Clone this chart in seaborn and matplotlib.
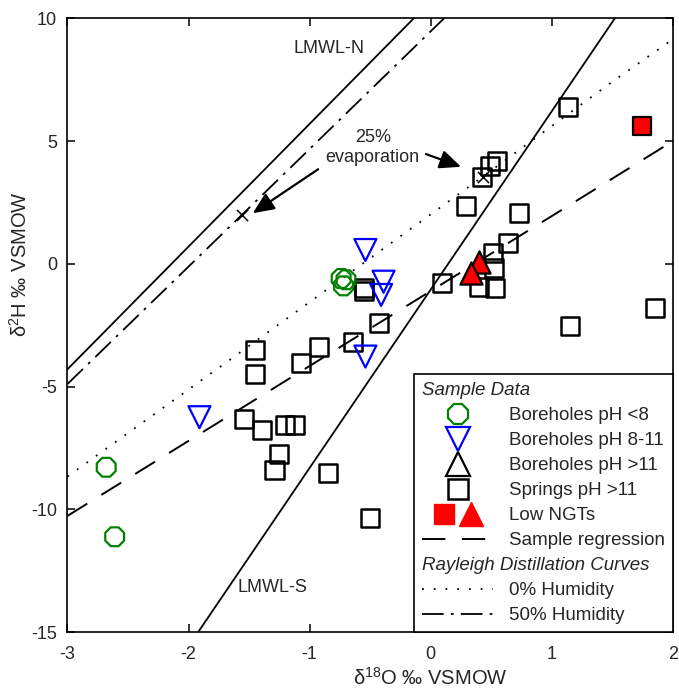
import seaborn as sns
import matplotlib.pyplot as plt
from matplotlib.lines import Line2D
from matplotlib.legend_handler import HandlerTuple

# ---------------------------------------------
# data
# ---------------------------------------------
bh_low_x = [-2.68, -2.61, -0.74, -0.70, -0.72]
bh_low_y = [-8.29, -11.12, -0.60, -0.65, -0.90]

bh_mid_x = [-1.91, -0.54, -0.54, -0.39, -0.41]
bh_mid_y = [-6.25, 0.56, -3.78, -0.73, -1.27]

bh_high_x = [0.40, 0.33]
bh_high_y = [0.09, -0.39]

springs_x = [-1.45, -1.45, -1.07, -0.92, -0.64, -1.54, -1.39, -1.20, -1.12,
             -1.25, -1.29, -0.85, -0.50, -0.43, -0.55, -0.55, 0.09, 0.29,
             0.73, 0.42, 0.49, 0.55, 1.13, 0.51, 0.52, 0.64, 0.40, 0.53,
             1.15, 1.85]
springs_y = [-3.51, -4.49, -4.05, -3.40, -3.20, -6.33, -6.77, -6.57, -6.57,
             -7.75, -8.40, -8.51, -10.37, -2.42, -1.00, -1.10, -0.79, 2.34,
             2.05, 3.55, 3.98, 4.20, 6.37, 0.43, -0.18, 0.83, -0.93, -1.00,
             -2.53, -1.79]

ngt_sq_x = [1.74]
ngt_sq_y = [5.61]

# evaporation end points (x markers)
evap_x = [-1.56, 0.43]
evap_y = [1.99, 3.55]

# lines (end points / curve points)
lmwl_n_x = [-3.0, -0.14]
lmwl_n_y = [-4.3, 10.0]
lmwl_s_x = [-1.92, 1.52]
lmwl_s_y = [-15.0, 10.0]
reg_x = [-3.0, 2.0]
reg_y = [-10.27, 5.0]
hum0_x = [-3.0, -1.63, 0.43, 1.50, 2.0]
hum0_y = [-8.67, -3.81, 3.55, 7.42, 9.15]
hum50_x = [-3.0, -1.56, 0.11]
hum50_y = [-4.9, 1.99, 10.0]

# ---------------------------------------------
# style
# ---------------------------------------------
sns.set_style("ticks")
plt.rcParams["font.family"] = ["Liberation Sans", "DejaVu Sans"]
plt.rcParams["mathtext.fontset"] = "custom"
plt.rcParams["mathtext.rm"] = "Liberation Sans"
plt.rcParams["axes.unicode_minus"] = False
plt.rcParams["xtick.direction"] = "in"
plt.rcParams["ytick.direction"] = "in"

fig = plt.figure(figsize=(6.79, 6.92), dpi=100)
ax = fig.add_axes([0.0993, 0.0867, 0.8919, 0.8869])

# lines
sns.lineplot(x=lmwl_n_x, y=lmwl_n_y, ax=ax, color="k", lw=1.3)
sns.lineplot(x=lmwl_s_x, y=lmwl_s_y, ax=ax, color="k", lw=1.3)
sns.lineplot(x=reg_x, y=reg_y, ax=ax, color="k", lw=1.4,
             linestyle=(0, (12, 8.5)))
sns.lineplot(x=hum0_x, y=hum0_y, ax=ax, color="k", lw=1.3,
             linestyle=(0, (1, 5.5)), sort=False)
sns.lineplot(x=hum50_x, y=hum50_y, ax=ax, color="k", lw=1.3,
             linestyle=(0, (12, 4, 1.5, 4)), sort=False)

# points
sns.scatterplot(x=springs_x, y=springs_y, ax=ax, marker="s", s=170,
                facecolor="none", edgecolor="k", linewidth=1.8, zorder=3)
sns.scatterplot(x=bh_low_x, y=bh_low_y, ax=ax, marker="8", s=215,
                facecolor="none", edgecolor="#008000", linewidth=1.6, zorder=3)
sns.scatterplot(x=bh_mid_x, y=bh_mid_y, ax=ax, marker="v", s=250,
                facecolor="none", edgecolor="#0000ff", linewidth=1.6, zorder=3)
sns.scatterplot(x=bh_high_x, y=bh_high_y, ax=ax, marker="^", s=255,
                facecolor="#ff0000", edgecolor="k", linewidth=1.6, zorder=4)
sns.scatterplot(x=ngt_sq_x, y=ngt_sq_y, ax=ax, marker="s", s=170,
                facecolor="#ff0000", edgecolor="k", linewidth=1.6, zorder=4)
sns.scatterplot(x=evap_x, y=evap_y, ax=ax, marker="x", s=65,
                color="k", linewidth=1.1, zorder=4)

# annotations
ax.text(-0.84, 8.75, "LMWL-N", fontsize=13, ha="center", va="center")
ax.text(-1.31, -13.2, "LMWL-S", fontsize=13, ha="center", va="center")
ax.text(-0.48, 4.75, "25%\nevaporation", fontsize=13, ha="center",
        va="center", linespacing=1.25)
arrow = dict(arrowstyle="-|>,head_length=0.5,head_width=0.22", color="k",
             lw=1.6, mutation_scale=26, shrinkA=0, shrinkB=0)
ax.annotate("", xy=(0.25, 3.95), xytext=(-0.04, 4.47), arrowprops=arrow)
ax.annotate("", xy=(-1.47, 2.06), xytext=(-0.93, 3.85), arrowprops=arrow)

# axes
ax.set_xlim(-3, 2)
ax.set_ylim(-15, 10)
ax.set_xticks([-3, -2, -1, 0, 1, 2])
ax.set_yticks([-15, -10, -5, 0, 5, 10])
ax.tick_params(axis="both", which="both", top=True, right=True,
               length=5.5, width=1.1, labelsize=13, color="k")
ax.tick_params(axis="y", pad=7.5)
ax.tick_params(axis="x", pad=10)
for sp in ax.spines.values():
    sp.set_linewidth(1.2)
    sp.set_color("k")

ax.set_xlabel("δ$^{18}$O ‰ VSMOW", fontsize=14.5)
ax.set_ylabel("δ$^{2}$H ‰ VSMOW", fontsize=14.5)
ax.xaxis.label.set_va("center")
ax.yaxis.label.set_va("center")
ax.xaxis.set_label_coords(0.6, -0.074)
ax.yaxis.set_label_coords(-0.078, 0.6)

# legend
blank = Line2D([], [], ls="none")
h_low = Line2D([], [], ls="none", marker="8", ms=16, mfc="none",
               mec="#008000", mew=1.6)
h_mid = Line2D([], [], ls="none", marker="v", ms=17, mfc="none",
               mec="#0000ff", mew=1.6)
h_high = Line2D([], [], ls="none", marker="^", ms=17, mfc="none",
                mec="k", mew=1.6)
h_spr = Line2D([], [], ls="none", marker="s", ms=14, mfc="none",
               mec="k", mew=1.8)
h_rsq = Line2D([], [], ls="none", marker="s", ms=14, mfc="#ff0000",
               mec="#ff0000")
h_rtri = Line2D([], [], ls="none", marker="^", ms=17, mfc="#ff0000",
                mec="#ff0000")
h_reg = Line2D([], [], color="k", lw=1.4, ls=(0, (12, 8.5)))
h_h0 = Line2D([], [], color="k", lw=1.3, ls=(0, (1, 5.5)))
h_h50 = Line2D([], [], color="k", lw=1.3, ls=(0, (12, 4, 1.5, 4)))

handles = [blank, h_low, h_mid, h_high, h_spr, (h_rsq, h_rtri), h_reg,
           blank, h_h0, h_h50]
labels = [" ", "Boreholes pH <8", "Boreholes pH 8-11", "Boreholes pH >11",
          "Springs pH >11", "Low NGTs", "Sample regression", " ",
          "0% Humidity", "50% Humidity"]
headers = {0: "Sample Data", 7: "Rayleigh Distillation Curves"}

leg = ax.legend(handles, labels, loc="lower right", bbox_to_anchor=(1, 0),
                borderaxespad=0, frameon=True, fancybox=False,
                edgecolor="k", framealpha=1, fontsize=13.5,
                handlelength=3.8, handletextpad=0.85, labelspacing=0.42,
                borderpad=0.42,
                handler_map={tuple: HandlerTuple(ndivide=None, pad=-0.9)})
leg.get_frame().set_linewidth(1.2)

fig.canvas.draw()
lbb = leg.get_window_extent()
for i, txt in headers.items():
    bb = leg.get_texts()[i].get_window_extent()
    fig.text((lbb.x0 + 8) / fig.bbox.width,
             (bb.y0 + bb.y1) / 2 / fig.bbox.height, txt,
             style="italic", fontsize=13.5, ha="left", va="center",
             zorder=10)

plt.savefig("out.png", dpi=100)
plt.close()
